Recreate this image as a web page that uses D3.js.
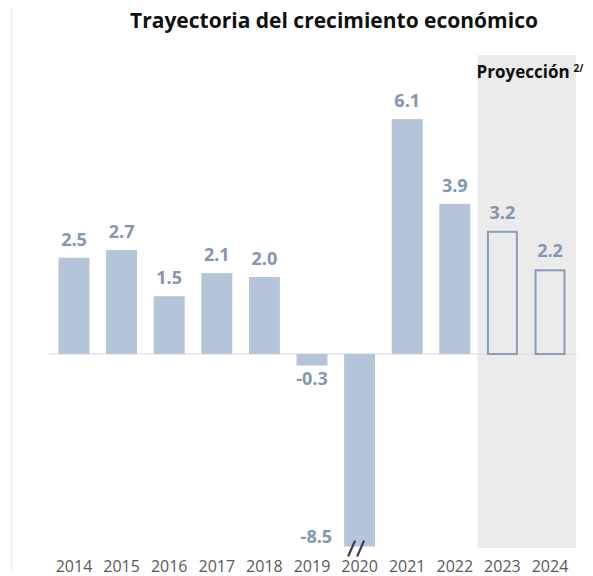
<!DOCTYPE html>
<html>
<head>
<meta charset="utf-8">
<script src="https://cdn.jsdelivr.net/npm/d3@7"></script>
<style>
  body { margin: 0; background: #fff; }
  text { font-family: "Open Sans", sans-serif; }
</style>
</head>
<body>
<svg width="593" height="576"></svg>
<script>
var years = ["2014", "2015", "2016", "2017", "2018", "2019", "2020", "2021", "2022", "2023", "2024"];
var growth = [2.5, 2.7, 1.5, 2.1, 2.0, -0.3, -8.5, 6.1, 3.9, 3.2, 2.2];
var projected = ["2023", "2024"];
var axisBreak = -5; // bars below this are cut

var svg = d3.select("svg"),
    width = +svg.attr("width"),
    height = +svg.attr("height");

var data = years.map(function (y, i) {
    return { year: y, value: growth[i], proj: projected.indexOf(y) >= 0 };
});

var x = d3.scaleBand()
    .domain(years)
    .range([49, 575])
    .paddingInner(0.35)
    .paddingOuter(0.2);

var y = d3.scaleLinear()
    .domain([axisBreak, 6.5])
    .range([546.5, 103.75]);

// faint frame line on the left
svg.append("line")
    .attr("x1", 11.5).attr("x2", 11.5)
    .attr("y1", 7).attr("y2", 572)
    .attr("stroke", "#efefef")
    .attr("stroke-width", 1.5);

// projection shading
var p0 = x(projected[0]) - x.step() * x.paddingInner() / 2 - 1,
    p1 = x(projected[projected.length - 1]) + x.bandwidth() + x.step() * x.paddingInner() / 2 + 2;
svg.append("rect")
    .attr("x", p0)
    .attr("y", 55)
    .attr("width", p1 - p0)
    .attr("height", 493)
    .attr("fill", "#ebebeb");

svg.append("text")
    .attr("x", p0 - 1)
    .attr("y", 78)
    .attr("font-size", "17px")
    .attr("font-weight", "bold")
    .attr("fill", "#111")
    .text("Proyección")
  .append("tspan")
    .attr("dx", 4)
    .attr("dy", -6)
    .attr("font-size", "10px")
    .text("2/");

// title
svg.append("text")
    .attr("x", 334)
    .attr("y", 28)
    .attr("text-anchor", "middle")
    .attr("font-size", "21px")
    .attr("font-weight", "bold")
    .attr("fill", "#111")
    .text("Trayectoria del crecimiento económico");

// zero line
svg.append("line")
    .attr("x1", 49).attr("x2", 577)
    .attr("y1", y(0)).attr("y2", y(0))
    .attr("stroke", "#d9d9d9")
    .attr("stroke-width", 1);

// bars
svg.selectAll(".bar")
    .data(data)
    .enter().append("rect")
    .attr("class", "bar")
    .attr("x", function (d) { return d.proj ? x(d.year) + 1 : x(d.year); })
    .attr("width", function (d) { return d.proj ? x.bandwidth() - 2 : x.bandwidth(); })
    .attr("y", function (d) { return y(Math.max(0, d.value)) + (d.proj ? 1 : 0); })
    .attr("height", function (d) {
        var v = Math.max(d.value, axisBreak);
        return Math.abs(y(v) - y(0)) - (d.proj ? 1 : 0);
    })
    .attr("fill", function (d) { return d.proj ? "none" : "#b4c4da"; })
    .attr("stroke", function (d) { return d.proj ? "#8a9cb8" : "none"; })
    .attr("stroke-width", 2);

// value labels
svg.selectAll(".val")
    .data(data)
    .enter().append("text")
    .attr("class", "val")
    .attr("x", function (d) {
        if (d.value < axisBreak) return x(d.year) - 12;
        return x(d.year) + x.bandwidth() / 2;
    })
    .attr("y", function (d) {
        if (d.value < axisBreak) return y(axisBreak) - 4;
        return d.value >= 0 ? y(d.value) - 12 : y(d.value) + 19;
    })
    .attr("text-anchor", function (d) { return d.value < axisBreak ? "end" : "middle"; })
    .attr("font-size", "18px")
    .attr("font-weight", "bold")
    .attr("fill", "#8496b0")
    .text(function (d) { return d3.format(".1f")(d.value).replace("−", "-"); });

// break mark under the cut bar
data.filter(function (d) { return d.value < axisBreak; }).forEach(function (d) {
    var cx = x(d.year) + 4;
    [0, 9].forEach(function (o) {
        svg.append("line")
            .attr("x1", cx + o).attr("y1", y(axisBreak) + 10)
            .attr("x2", cx + o + 7).attr("y2", y(axisBreak) - 6)
            .attr("stroke", "#404040")
            .attr("stroke-width", 2.2);
    });
});

// year labels
var xAxis = svg.append("g")
    .attr("transform", "translate(0,572)")
    .call(d3.axisBottom(x).tickSize(0).tickPadding(0));
xAxis.select(".domain").remove();
xAxis.selectAll("text")
    .attr("dy", 0)
    .attr("font-family", "Open Sans, sans-serif")
    .attr("font-size", "16px")
    .attr("fill", "#595959");
</script>
</body>
</html>
